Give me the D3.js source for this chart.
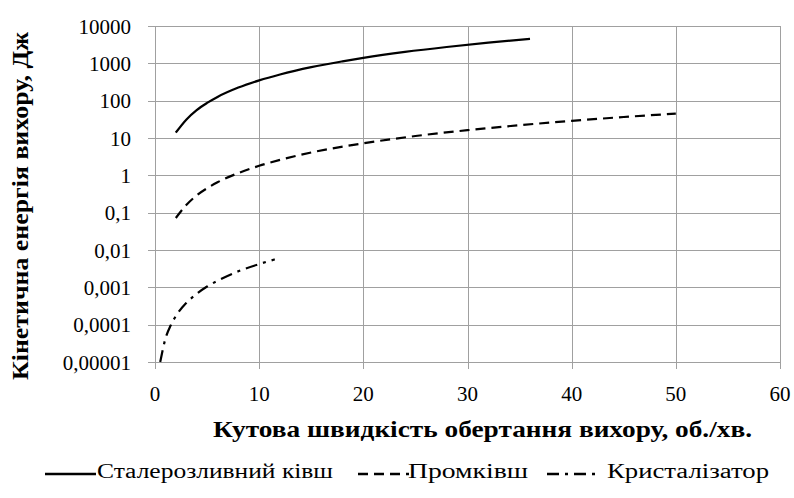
<!DOCTYPE html>
<html>
<head>
<meta charset="utf-8">
<script src="https://cdn.jsdelivr.net/npm/d3@7"></script>
<style>
  body { margin: 0; background: #fff; }
</style>
</head>
<body>
<div id="chart"></div>
<script>
let width = 794, height = 498;
let margin = { top: 26, right: 14, bottom: 136, left: 155 };

// series (x = об./хв., y = Дж)
let ladleX = [2, 3, 4, 5, 6, 8, 10, 12, 15, 18, 20, 24, 28, 32, 36];
let ladleY = [14, 31, 56, 87, 126, 224, 350, 504, 790, 1130, 1400, 2020, 2740, 3580, 4540];
let tundishX = [2, 3, 4, 5, 6, 8, 10, 12, 15, 20, 25, 30, 35, 40, 45, 50];
let tundishY = [0.072, 0.16, 0.29, 0.45, 0.65, 1.15, 1.8, 2.6, 4.1, 7.2, 11.3, 16.2, 22, 28.8, 36.5, 45];
let mouldX = [0.5, 1, 1.5, 2, 3, 4, 5, 6, 8, 10, 11.5];
let mouldY = [0.00001, 0.000042, 0.000095, 0.00017, 0.00038, 0.00067, 0.00105, 0.0015, 0.0027, 0.0042, 0.0056];

let seriesNames = ["Сталерозливний ківш", "Промківш", "Кристалізатор"];
let xTicks = [0, 10, 20, 30, 40, 50, 60];
let yTicks = [0.00001, 0.0001, 0.001, 0.01, 0.1, 1, 10, 100, 1000, 10000];
let yTickLabels = ["0,00001", "0,0001", "0,001", "0,01", "0,1", "1", "10", "100", "1000", "10000"];

let dashes = [null, "10,6", "12,6,3,6"];
let fontFam = '"Liberation Serif", "Times New Roman", Tinos, "DejaVu Serif", "Noto Serif", serif';

let p_width = width - margin.left - margin.right;
let p_height = height - margin.top - margin.bottom;

var svg = d3.select("#chart").append("svg")
  .attr("width", width)
  .attr("height", height)
  .attr("font-family", fontFam)
  .style("font-family", fontFam);

var x = d3.scaleLinear().domain([0, 60]).range([margin.left, margin.left + p_width]);
var y = d3.scaleLog().domain([0.00001, 10000]).range([margin.top + p_height, margin.top]);

let gridColor = "#a0a0a0";

// horizontal grid + y ticks
svg.selectAll(".hgrid").data(yTicks).enter().append("line")
  .attr("x1", margin.left - 7)
  .attr("x2", margin.left + p_width)
  .attr("y1", d => Math.round(y(d)) + 0.5)
  .attr("y2", d => Math.round(y(d)) + 0.5)
  .attr("stroke", gridColor)
  .attr("stroke-width", 1);

// vertical grid + x ticks
svg.selectAll(".vgrid").data(xTicks).enter().append("line")
  .attr("x1", d => Math.round(x(d)) + 0.5)
  .attr("x2", d => Math.round(x(d)) + 0.5)
  .attr("y1", margin.top)
  .attr("y2", margin.top + p_height + 7)
  .attr("stroke", gridColor)
  .attr("stroke-width", 1);

svg.selectAll(".ylab").data(yTicks).enter().append("text")
  .attr("x", 131)
  .attr("y", d => y(d) + 7.5)
  .attr("text-anchor", "end")
  .style("font-size", "21px")
  .text((d, i) => yTickLabels[i]);

svg.selectAll(".xlab").data(xTicks).enter().append("text")
  .attr("x", d => x(d))
  .attr("y", 401)
  .attr("text-anchor", "middle")
  .style("font-size", "21px")
  .text(d => d);

// axis titles
svg.append("text")
  .attr("x", 213)
  .attr("y", 437)
  .attr("textLength", 539)
  .attr("lengthAdjust", "spacingAndGlyphs")
  .style("font-size", "23px")
  .style("font-weight", "bold")
  .text("Кутова швидкість обертання вихору, об./хв.");

svg.append("text")
  .attr("transform", "translate(28,380) rotate(-90)")
  .attr("textLength", 348)
  .attr("lengthAdjust", "spacingAndGlyphs")
  .style("font-size", "23px")
  .style("font-weight", "bold")
  .text("Кінетична енергія вихору, Дж");

// curves
let line = d3.line()
  .x(d => x(d[0]))
  .y(d => y(d[1]))
  .curve(d3.curveMonotoneX);

let allSeries = [
  d3.zip(ladleX, ladleY),
  d3.zip(tundishX, tundishY),
  d3.zip(mouldX, mouldY)
];

allSeries.forEach((s, i) => {
  svg.append("path")
    .datum(s)
    .attr("d", line)
    .attr("fill", "none")
    .attr("stroke", "#000")
    .attr("stroke-width", 2.2)
    .attr("stroke-dasharray", dashes[i]);
});

// legend
let legLineX = [45, 358, 547];
let legTextX = [97, 408, 607];
let legTextW = [236, 120, 162];
let legendY = 478;
seriesNames.forEach((name, i) => {
  svg.append("line")
    .attr("x1", legLineX[i])
    .attr("x2", legLineX[i] + 51)
    .attr("y1", legendY - 4)
    .attr("y2", legendY - 4)
    .attr("stroke", "#000")
    .attr("stroke-width", 2.5)
    .attr("stroke-dasharray", dashes[i]);
  svg.append("text")
    .attr("x", legTextX[i])
    .attr("y", legendY)
    .attr("textLength", legTextW[i])
    .attr("lengthAdjust", "spacingAndGlyphs")
    .style("font-size", "20px")
    .text(name);
});
</script>
</body>
</html>
